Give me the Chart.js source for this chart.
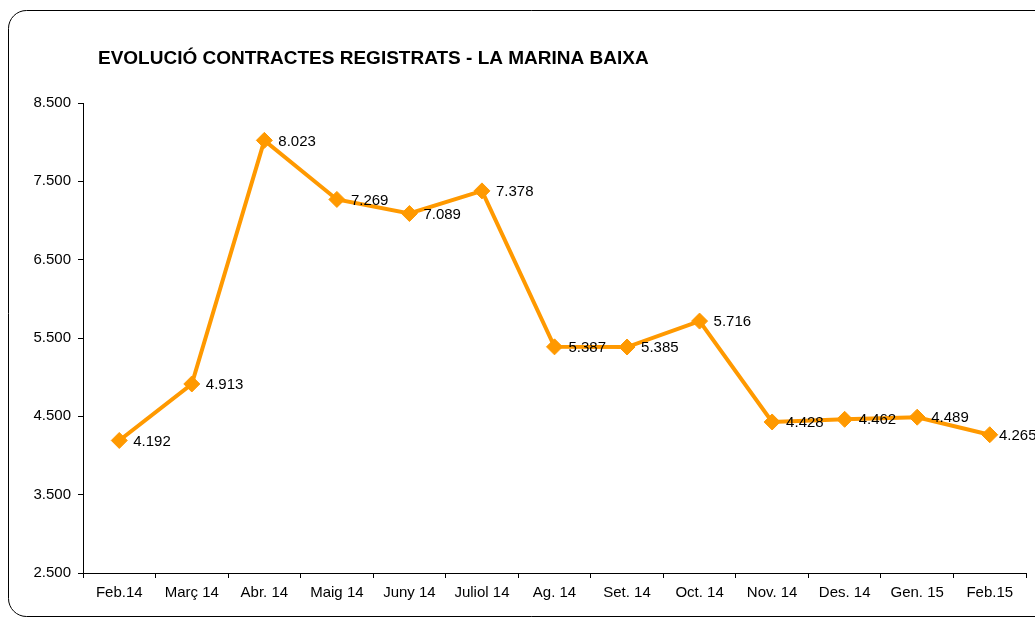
<!DOCTYPE html>
<html>
<head>
<meta charset="utf-8">
<script src="https://cdn.jsdelivr.net/npm/chart.js@4.4.1/dist/chart.umd.min.js"></script>
<style>
html,body{margin:0;padding:0;background:#fff;overflow:hidden;}
#wrap{position:relative;width:1035px;height:619px;}
</style>
</head>
<body>
<div id="wrap"><canvas id="c" width="1035" height="619"></canvas></div>
<script>
const titleText = "EVOLUCIÓ CONTRACTES REGISTRATS - LA MARINA BAIXA";
const categories = ["Feb.14","Març 14","Abr. 14","Maig 14","Juny 14","Juliol 14","Ag. 14","Set. 14","Oct. 14","Nov. 14","Des. 14","Gen. 15","Feb.15"];
const contracts = [4192,4913,8023,7269,7089,7378,5387,5385,5716,4428,4462,4489,4265];
const yMin = 2500, yMax = 8500, yStep = 1000;

const fmt = v => {
  const s = Math.round(v).toString();
  return s.replace(/\B(?=(\d{3})+(?!\d))/g, ".");
};

const FONT = "'Liberation Sans', Arial, sans-serif";

const framePlugin = {
  id: 'frame',
  beforeDraw(chart) {
    const ctx = chart.ctx;
    ctx.save();
    ctx.fillStyle = '#fff';
    ctx.fillRect(0, 0, chart.width, chart.height);
    ctx.strokeStyle = '#000';
    ctx.lineWidth = 1;
    ctx.beginPath();
    ctx.roundRect(8.5, 10.5, 1060, 606, 18);
    ctx.stroke();
    ctx.fillStyle = '#000';
    ctx.font = "bold 19px " + FONT;
    ctx.textBaseline = 'middle';
    ctx.textAlign = 'left';
    ctx.fillText(titleText, 98, 59);
    ctx.restore();
  },
  afterDatasetsDraw(chart) {
    const ctx = chart.ctx;
    const meta = chart.getDatasetMeta(0);
    ctx.save();
    ctx.fillStyle = '#000';
    ctx.font = "15px " + FONT;
    ctx.textBaseline = 'middle';
    ctx.textAlign = 'left';
    meta.data.forEach((pt, i) => {
      const lx = Math.min(pt.x + 14, chart.chartArea.right - 27);
      ctx.fillText(fmt(contracts[i]), lx, pt.y + 1);
    });
    ctx.restore();
  }
};

new Chart(document.getElementById('c'), {
  type: 'line',
  data: {
    labels: categories,
    datasets: [{
      data: contracts,
      borderColor: '#FF9900',
      backgroundColor: '#FF9900',
      borderWidth: 4,
      pointStyle: 'rectRot',
      pointRadius: 8,
      pointHoverRadius: 8,
      pointBorderWidth: 1,
      tension: 0
    }]
  },
  options: {
    responsive: false,
    animation: false,
    devicePixelRatio: 1,
    events: [],
    layout: { padding: { left: 0, right: 8, top: 103, bottom: 0 } },
    plugins: { legend: { display: false }, title: { display: false }, tooltip: { enabled: false } },
    scales: {
      x: {
        offset: true,
        grid: { offset: true, drawOnChartArea: false, drawTicks: true, tickLength: 5, color: '#000' },
        border: { display: true, color: '#000', width: 1 },
        ticks: { color: '#000', font: { family: FONT, size: 15 }, padding: 6, maxRotation: 0, autoSkip: false },
        afterFit(scale) { scale.height = 46; }
      },
      y: {
        min: yMin, max: yMax,
        grid: { drawOnChartArea: false, drawTicks: true, tickLength: 5, color: '#000' },
        border: { display: true, color: '#000', width: 1 },
        ticks: { stepSize: yStep, color: '#000', font: { family: FONT, size: 15 }, padding: 7, callback: v => fmt(v) },
        afterFit(scale) { scale.width = 83; }
      }
    }
  },
  plugins: [framePlugin]
});
</script>
</body>
</html>
